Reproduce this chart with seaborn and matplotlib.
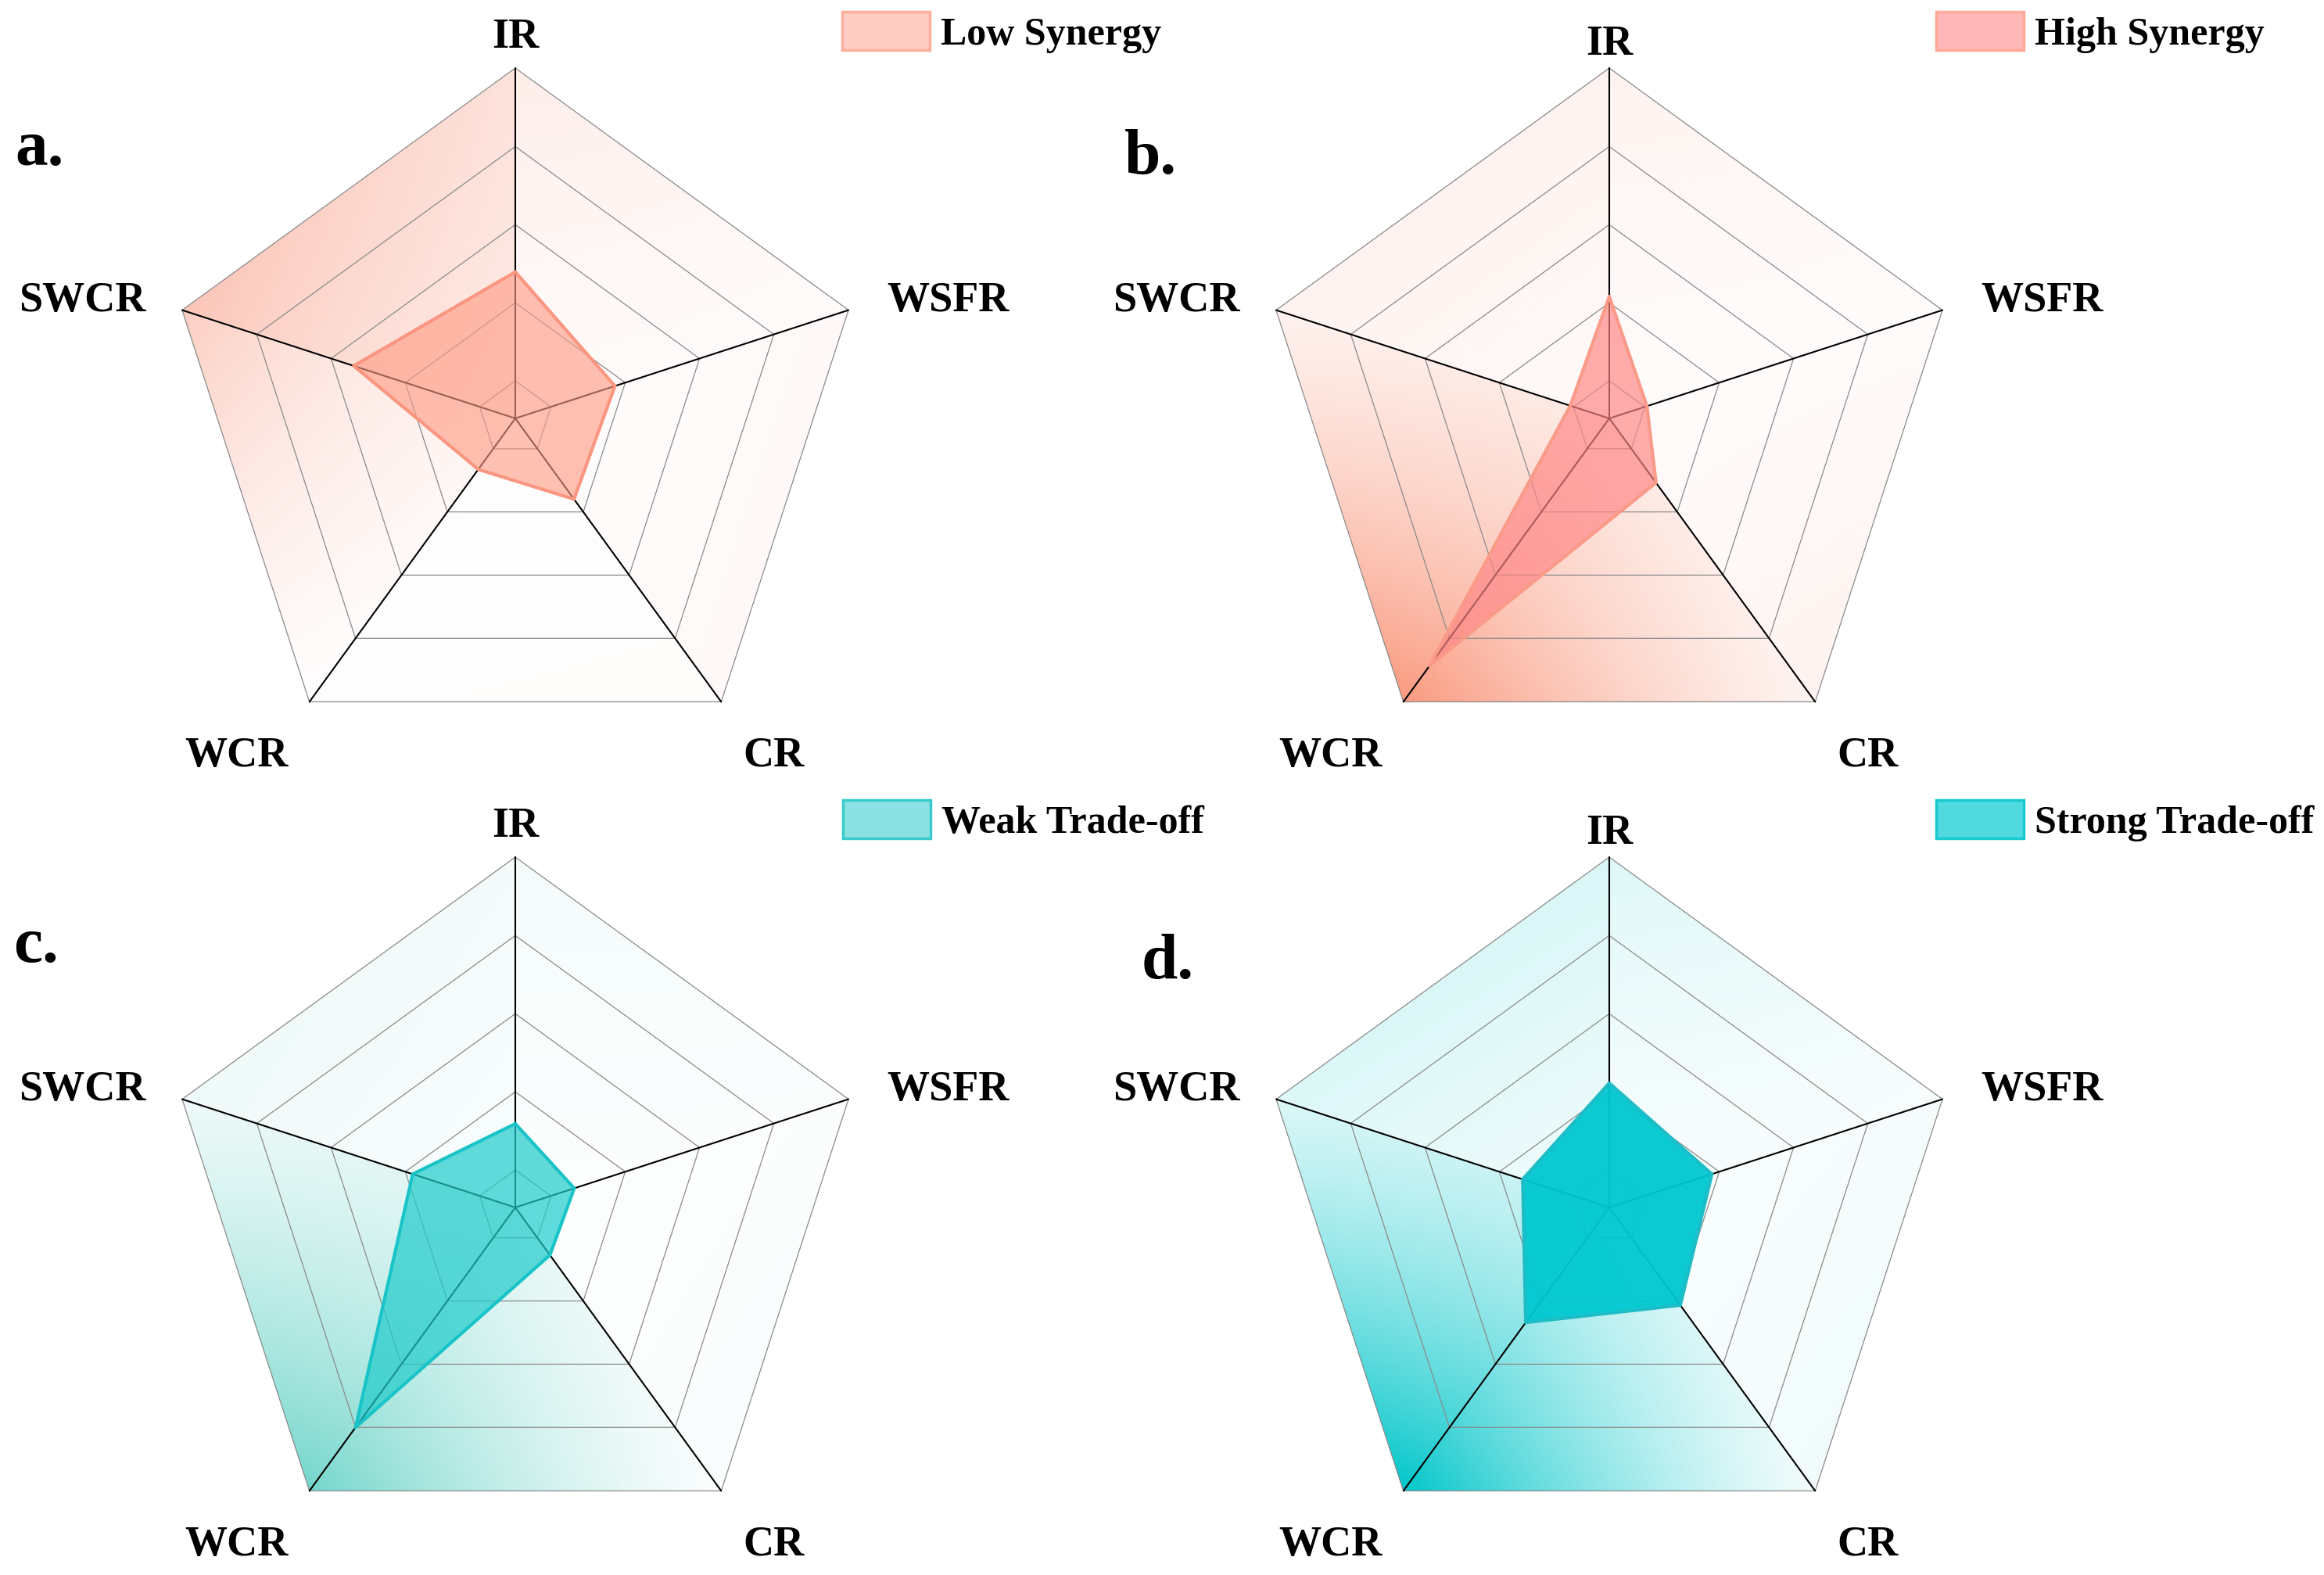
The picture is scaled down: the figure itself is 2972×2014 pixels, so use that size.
import numpy as np
import pandas as pd
import seaborn as sns
import matplotlib.pyplot as plt
from matplotlib.colors import to_rgb
from matplotlib.patches import Polygon, Patch

# axes of the radar, clockwise from the top
axes_labels = ['IR', 'WSFR', 'CR', 'WCR', 'SWCR']

# values as a fraction of the outer ring
low_synergy = [0.418, 0.299, 0.285, 0.180, 0.485]
high_synergy = [0.348, 0.113, 0.227, 0.873, 0.117]
weak_tradeoff = [0.239, 0.177, 0.168, 0.776, 0.308]
strong_tradeoff = [0.355, 0.308, 0.345, 0.406, 0.260]

series_names = ['Low Synergy', 'High Synergy', 'Weak Trade-off', 'Strong Trade-off']
panel_tags = ['a.', 'b.', 'c.', 'd.']

rings = [0.107, 0.33, 0.553, 0.776, 1.0]

W, H = 2972, 2015
R = 448  # radius in pixels

# background shading strength at the two tips of each sector
# (IR->WSFR, WSFR->CR, CR->WCR, WCR->SWCR, SWCR->IR)
panels = [
    dict(values=low_synergy, c=(659, 536), fill='#FF9A82', falpha=0.62, edge='#FA9580',
         shade='#FA9F88', amax=0.6, leg=(1077, 16), leg_fc='#FFCCC2', leg_ec='#FFAE9C',
         tag=(19, 211), ir_off=0.09,
         sectors=[(0.3, 0.06), (0.1, 0.1), (0.04, 0.03), (0.02, 0.85), (1.0, 0.5)]),
    dict(values=high_synergy, c=(2058, 536), fill='#FF8585', falpha=0.68, edge='#FA9A88',
         shade='#FA9478', amax=0.95, leg=(2476, 16), leg_fc='#FFB8B8', leg_ec='#FFA898',
         tag=(1438, 222), ir_off=0.07,
         sectors=[(0.12, 0.03), (0.04, 0.12), (0.1, 1.0), (1.0, 0.12), (0.12, 0.12)]),
    dict(values=weak_tradeoff, c=(659, 1545), fill='#1ECBCB', falpha=0.7, edge='#18C4C8',
         shade='#5ACFC2', amax=0.85, leg=(1078, 1024), leg_fc='#8CE2E2', leg_ec='#3ACCCC',
         tag=(17, 1230), ir_off=0.09,
         sectors=[(0.08, 0.03), (0.03, 0.04), (0.03, 1.0), (1.0, 0.12), (0.12, 0.08)]),
    dict(values=strong_tradeoff, c=(2058, 1545), fill='#00C8D0', falpha=0.95, edge='#1DBCC6',
         shade='#00C6CA', amax=1.0, leg=(2476, 1024), leg_fc='#50D9DF', leg_ec='#18CACF',
         tag=(1460, 1251), ir_off=0.07,
         sectors=[(0.13, 0.03), (0.04, 0.06), (0.05, 1.0), (1.0, 0.14), (0.14, 0.15)]),
]

sns.set_theme(style='white')
plt.rcParams['font.family'] = ['Liberation Serif', 'DejaVu Serif']
plt.rcParams['font.weight'] = 'bold'
plt.rcParams['text.color'] = 'black'

fig = plt.figure(figsize=(W / 100, H / 100), dpi=100)

# angles (math convention) of each axis
ang = np.deg2rad(90 - 72 * np.arange(5))
ux, uy = np.cos(ang), np.sin(ang)
lim = 1.3

label_pos = {
    'WSFR': (1.06, 0.337, 'left'),
    'SWCR': (-1.054, 0.337, 'right'),
    'WCR': (-0.797, -0.962, 'center'),
    'CR': (0.737, -0.962, 'center'),
}

for p, name, tag in zip(panels, series_names, panel_tags):
    cx, cy = p['c']
    ax = fig.add_axes([(cx - lim * R) / W, (H - cy - lim * R) / H, 2 * lim * R / W, 2 * lim * R / H])
    ax.set_xlim(-lim, lim)
    ax.set_ylim(-lim, lim)
    ax.set_aspect('equal')
    ax.axis('off')

    vals = np.array(p['values'])

    # background gradient inside the outer pentagon, tip to tip in each sector
    n = 700
    g = np.linspace(-1.02, 1.02, n)
    gx, gy = np.meshgrid(g, g)
    rho = np.hypot(gx, gy)
    a = np.mod(90 - np.degrees(np.arctan2(gy, gx)), 360)
    k = np.floor(a / 72).astype(int) % 5
    k2 = (k + 1) % 5
    dx, dy = ux[k2] - ux[k], uy[k2] - uy[k]
    s = ((gx - ux[k]) * dx + (gy - uy[k]) * dy) / (dx ** 2 + dy ** 2)
    s = np.clip(s, 0, 1)
    sec = np.array(p['sectors']) ** (1 / 1.5)
    v = (sec[k, 0] * (1 - s) + sec[k, 1] * s) ** 1.5
    t = (a - 72 * k) / 72
    edge_r = np.cos(np.deg2rad(36)) / np.cos(np.deg2rad((t - 0.5) * 72))
    rr = np.clip(rho / edge_r, 0, 1)
    inten = v * (0.45 + 0.55 * rr ** 1.3)
    img = np.zeros((n, n, 4))
    img[..., :3] = to_rgb(p['shade'])
    img[..., 3] = np.clip(inten, 0, 1) * p['amax']
    outer = Polygon(np.column_stack([ux, uy]), closed=True, facecolor='none', edgecolor='none')
    ax.add_patch(outer)
    im = ax.imshow(img, extent=(-1.02, 1.02, -1.02, 1.02), origin='lower',
                   interpolation='bilinear', zorder=1)
    im.set_clip_path(outer)

    # rings
    for r in rings:
        ax.plot(np.append(ux, ux[0]) * r, np.append(uy, uy[0]) * r,
                color='#8a8a8a', lw=0.9, zorder=2)
    # spokes
    for x, y in zip(ux, uy):
        ax.plot([0, x], [0, y], color='black', lw=1.5, zorder=3)

    # data polygon
    px = vals * ux
    py = vals * uy
    ax.fill(px, py, color=p['fill'], alpha=p['falpha'], lw=0, zorder=4)
    df = pd.DataFrame({'x': np.append(px, px[0]), 'y': np.append(py, py[0])})
    sns.lineplot(data=df, x='x', y='y', sort=False, estimator=None, color=p['edge'],
                 lw=3, ax=ax, zorder=5)
    ax.set_xlabel('')
    ax.set_ylabel('')

    # axis labels
    ax.text(0, 1 + p['ir_off'], 'IR', ha='center', va='center', fontsize=39, fontweight='bold')
    for lab in axes_labels[1:]:
        x, y, ha = label_pos[lab]
        ax.text(x, y, lab, ha=ha, va='center', fontsize=39, fontweight='bold')

    # panel tag
    fig.text(p['tag'][0] / W, 1 - p['tag'][1] / H, tag, ha='left', va='baseline',
             fontsize=60, fontweight='bold')

    # legend
    handle = Patch(facecolor=p['leg_fc'], edgecolor=p['leg_ec'], lw=2.5, label=name)
    lx, ly = p['leg']
    ax.legend(handles=[handle], loc='upper left',
              bbox_to_anchor=(lx / W, 1 - ly / H), bbox_transform=fig.transFigure,
              frameon=False, borderpad=0, borderaxespad=0, handlelength=2.24,
              handleheight=1.12, handletextpad=0.28,
              prop={'size': 36, 'weight': 'bold', 'family': 'Liberation Serif'})

fig.savefig('out.png', dpi=100, facecolor='white')
